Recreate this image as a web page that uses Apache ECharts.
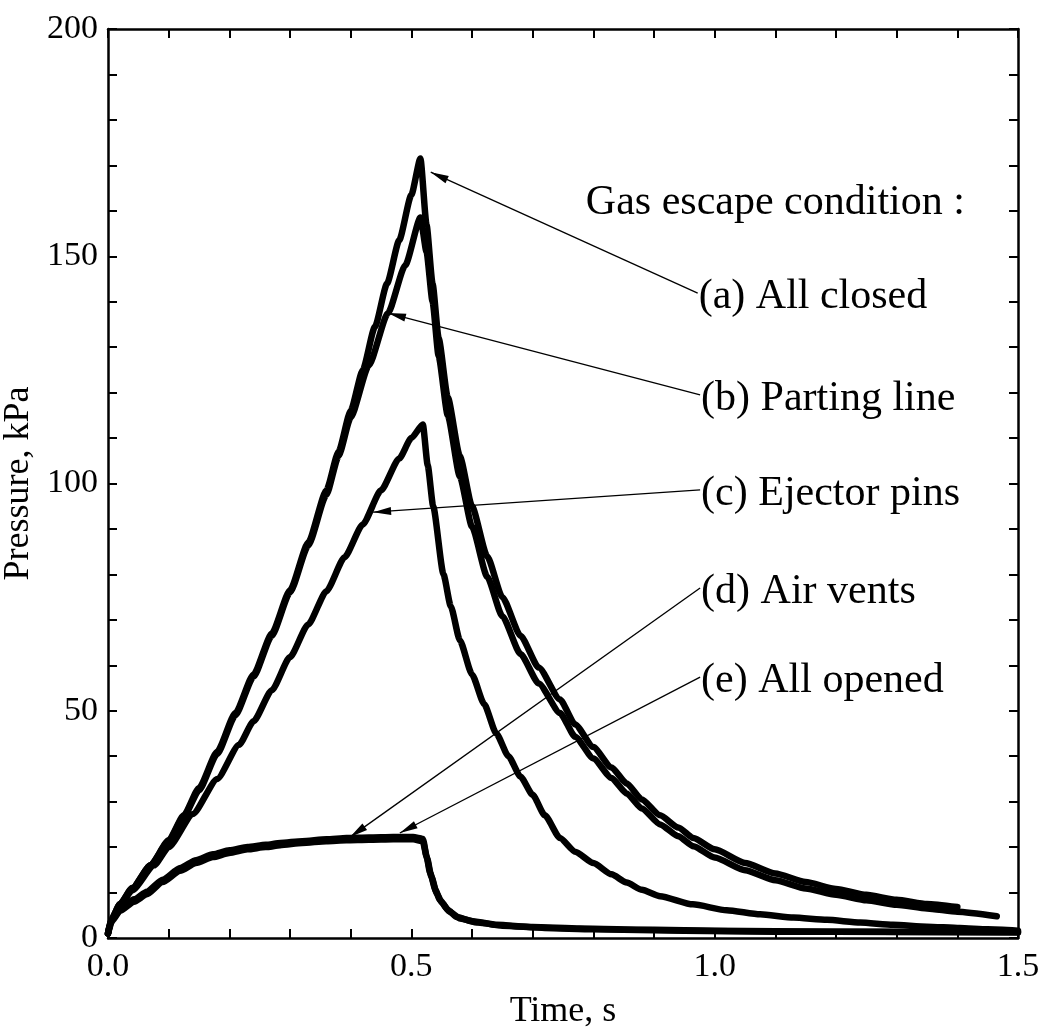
<!DOCTYPE html>
<html>
<head>
<meta charset="utf-8">
<script src="https://cdn.jsdelivr.net/npm/echarts@6/dist/echarts.min.js"></script>
<style>
  html, body { margin: 0; padding: 0; background: #fff; }
  #chart { width: 1044px; height: 1033px; }
</style>
</head>
<body>
<div id="chart"></div>
<script>
// Cavity pressure traces [time s, pressure kPa] for each gas escape condition
const allClosed = [
  [0, 1], [0.005, 4], [0.02, 7.5], [0.04, 11], [0.07, 16], [0.1, 21.5], [0.125, 27],
  [0.15, 33], [0.18, 41], [0.21, 49.5], [0.24, 58], [0.27, 67], [0.30, 76.5], [0.33, 87],
  [0.36, 98.5], [0.38, 107], [0.40, 116], [0.42, 125], [0.44, 134.5], [0.46, 144],
  [0.48, 153.5], [0.50, 163.5], [0.515, 171.5], [0.525, 157], [0.535, 144],
  [0.545, 132], [0.56, 119], [0.58, 106], [0.60, 95], [0.625, 84], [0.65, 75],
  [0.68, 66.5], [0.71, 59.5], [0.745, 52.5], [0.77, 47], [0.80, 42], [0.83, 37.5],
  [0.855, 34], [0.88, 30.5], [0.91, 27], [0.94, 24.3], [0.965, 22], [1.0, 19.5],
  [1.05, 16.5], [1.1, 14.2], [1.15, 12.3], [1.2, 10.8], [1.25, 9.5], [1.3, 8.4],
  [1.35, 7.5], [1.40, 6.8]
];
const partingLine = [
  [0, 1], [0.005, 4], [0.02, 7.5], [0.04, 11], [0.07, 16], [0.1, 21.3], [0.125, 26.7],
  [0.15, 32.5], [0.18, 40.5], [0.21, 49], [0.24, 57.5], [0.27, 66.5], [0.30, 76], [0.33, 86.3],
  [0.36, 97.5], [0.38, 106], [0.40, 114.5], [0.43, 126], [0.4615, 137.5], [0.49, 148],
  [0.515, 158.5], [0.525, 151], [0.535, 140], [0.545, 128], [0.56, 115],
  [0.58, 101.5], [0.60, 90.5], [0.625, 79.5], [0.65, 70.8], [0.68, 62.5], [0.71, 56],
  [0.745, 49.5], [0.77, 44.3], [0.80, 39.5], [0.83, 35.2], [0.855, 31.8], [0.88, 28.5],
  [0.91, 25], [0.94, 22.4], [0.965, 20.2], [1.0, 17.7], [1.05, 14.9], [1.1, 12.7],
  [1.15, 10.9], [1.2, 9.5], [1.25, 8.3], [1.3, 7.3], [1.35, 6.5], [1.40, 5.8], [1.465, 4.8]
];
const ejectorPins = [
  [0, 1], [0.009, 4.6], [0.04, 10.5], [0.076, 16], [0.1, 20], [0.14, 27.3], [0.18, 35],
  [0.216, 42.5], [0.24, 47.7], [0.27, 54.5], [0.30, 61.8], [0.33, 69], [0.36, 76.3],
  [0.39, 83.8], [0.42, 91], [0.45, 98.5], [0.48, 105.5], [0.50, 110], [0.519, 113],
  [0.527, 104], [0.536, 95], [0.553, 80], [0.565, 73], [0.58, 65.5], [0.60, 58],
  [0.62, 51.5], [0.64, 45], [0.66, 40], [0.68, 35.5], [0.70, 31.5], [0.72, 27],
  [0.745, 22], [0.77, 19], [0.80, 16.5], [0.83, 14], [0.855, 12.2], [0.88, 10.6],
  [0.91, 9.2], [0.964, 7.4], [1.02, 6.1], [1.075, 5.2], [1.13, 4.5], [1.185, 4],
  [1.24, 3.4], [1.294, 2.9], [1.35, 2.5], [1.404, 2.2], [1.45, 1.9], [1.5, 1.6]
];
const airVents = [
  [0, 1], [0.005, 3.5], [0.02, 6], [0.043, 8], [0.064, 9.6], [0.09, 12.3], [0.119, 14.8],
  [0.145, 16.5], [0.173, 17.8], [0.2, 18.7], [0.23, 19.5], [0.26, 20], [0.284, 20.4],
  [0.32, 20.9], [0.36, 21.3], [0.393, 21.5], [0.43, 21.6], [0.47, 21.7], [0.503, 21.7],
  [0.519, 21.3], [0.525, 18], [0.531, 14.3], [0.54, 10.5], [0.547, 8.4], [0.56, 6.2],
  [0.575, 4.6], [0.6, 3.7], [0.641, 2.9], [0.7, 2.4], [0.778, 2.1], [0.9, 1.8],
  [1.0, 1.6], [1.2, 1.4], [1.35, 1.3], [1.5, 1.2]
];
const allOpened = [
  [0, 1], [0.005, 3.8], [0.02, 6.5], [0.043, 8.5], [0.064, 10.2], [0.09, 12.8], [0.119, 15.4],
  [0.145, 17.1], [0.173, 18.4], [0.2, 19.3], [0.23, 20], [0.26, 20.5], [0.284, 20.9],
  [0.32, 21.3], [0.36, 21.7], [0.393, 22], [0.43, 22.1], [0.47, 22.2], [0.503, 22.2],
  [0.519, 21.8], [0.526, 17.5], [0.533, 13.5], [0.542, 9.8], [0.55, 7.8], [0.563, 5.8],
  [0.58, 4.3], [0.61, 3.4], [0.65, 2.7], [0.72, 2.2], [0.8, 1.9], [0.95, 1.6],
  [1.1, 1.4], [1.3, 1.3], [1.5, 1.3]
];

// Callout texts, where each text starts and where its arrow points (data units)
const headingText = 'Gas escape condition :';
const headingAnchor = [0.786, 162.6];
const calloutTexts = ['(a) All closed', '(b) Parting line', '(c) Ejector pins', '(d) Air vents', '(e) All opened'];
const calloutAnchors = [[0.972, 141.9], [0.976, 119.5], [0.976, 98.6], [0.976, 77.0], [0.976, 57.4]];
const calloutTips = [[0.532, 168.5], [0.4615, 137.5], [0.437, 93.7], [0.399, 22.2], [0.481, 23.1]];

const FONT = '"Liberation Serif", "Times New Roman", serif';
// filled arrowhead, tip at the symbol centre so it lands exactly on the target point
const ARROW = 'path://M0,-20 L0.01,-20 L0,-20 Z M0,0 L4,20 L-4,20 Z';

const chart = echarts.init(document.getElementById('chart'), null, { renderer: 'canvas' });

const axisLineStyle = { show: true, onZero: false, lineStyle: { color: '#000', width: 2.5 } };
const tickStyle = { show: true, inside: true, length: 9, lineStyle: { color: '#000', width: 2 } };
const minorStyle = { show: true, splitNumber: 5, length: 9, lineStyle: { color: '#000', width: 2 } };

function curve(data) {
  return {
    type: 'line',
    data: data,
    showSymbol: false,
    smooth: 0.2,
    smoothMonotone: 'x',
    lineStyle: { color: '#000', width: 6.5, cap: 'round', join: 'round' },
    itemStyle: { color: '#000' },
    silent: true,
    z: 2
  };
}

const option = {
  animation: false,
  backgroundColor: '#fff',
  grid: { left: 108, right: 26, top: 29, bottom: 95, containLabel: false, outerBoundsMode: 'none' },
  xAxis: [
    {
      type: 'value', min: 0, max: 1.5, interval: 0.5, position: 'bottom',
      axisLine: axisLineStyle, axisTick: tickStyle, minorTick: minorStyle,
      splitLine: { show: false },
      axisLabel: {
        formatter: v => v.toFixed(1), fontFamily: FONT, fontSize: 34, color: '#000', margin: 12,
        showMinLabel: true, showMaxLabel: true
      },
      name: 'Time, s', nameLocation: 'middle', nameGap: 56,
      nameTextStyle: { fontFamily: FONT, fontSize: 36, color: '#000' }
    },
    {
      type: 'value', min: 0, max: 1.5, interval: 0.5, position: 'top',
      axisLine: axisLineStyle, axisTick: tickStyle, minorTick: minorStyle,
      splitLine: { show: false }, axisLabel: { show: false }
    }
  ],
  yAxis: [
    {
      type: 'value', min: 0, max: 200, interval: 50, position: 'left',
      axisLine: axisLineStyle, axisTick: tickStyle, minorTick: minorStyle,
      splitLine: { show: false },
      axisLabel: { fontFamily: FONT, fontSize: 34, color: '#000', margin: 10, showMinLabel: true, showMaxLabel: true },
      name: 'Pressure, kPa', nameLocation: 'middle', nameGap: 63, nameRotate: 90,
      nameTextStyle: { fontFamily: FONT, fontSize: 36, color: '#000' }
    },
    {
      type: 'value', min: 0, max: 200, interval: 50, position: 'right',
      axisLine: axisLineStyle, axisTick: tickStyle, minorTick: minorStyle,
      splitLine: { show: false }, axisLabel: { show: false }
    }
  ],
  series: [
    curve(allClosed),
    curve(partingLine),
    curve(ejectorPins),
    curve(airVents),
    curve(allOpened),
    {
      type: 'scatter',
      symbolSize: 0,
      silent: true,
      z: 5,
      itemStyle: { opacity: 1, color: '#000' },
      data: [{ name: headingText, value: headingAnchor }].concat(
        calloutTexts.map((t, i) => ({ name: t, value: calloutAnchors[i] }))
      ),
      label: {
        show: true, position: 'right', distance: 1, offset: [0, 4], formatter: '{b}',
        fontFamily: FONT, fontSize: 42, color: '#000', opacity: 1
      },
      markLine: {
        silent: true,
        animation: false,
        symbol: ['none', ARROW],
        symbolSize: [0, 36],
        label: { show: false },
        emphasis: { disabled: true },
        lineStyle: { color: '#000', width: 1.3, type: 'solid', opacity: 1 },
        data: calloutTips.map((tip, i) => [
          { coord: calloutAnchors[i] },
          { coord: tip, symbol: ARROW, symbolSize: [8, 36] }
        ])
      }
    }
  ]
};

chart.setOption(option);
</script>
</body>
</html>
